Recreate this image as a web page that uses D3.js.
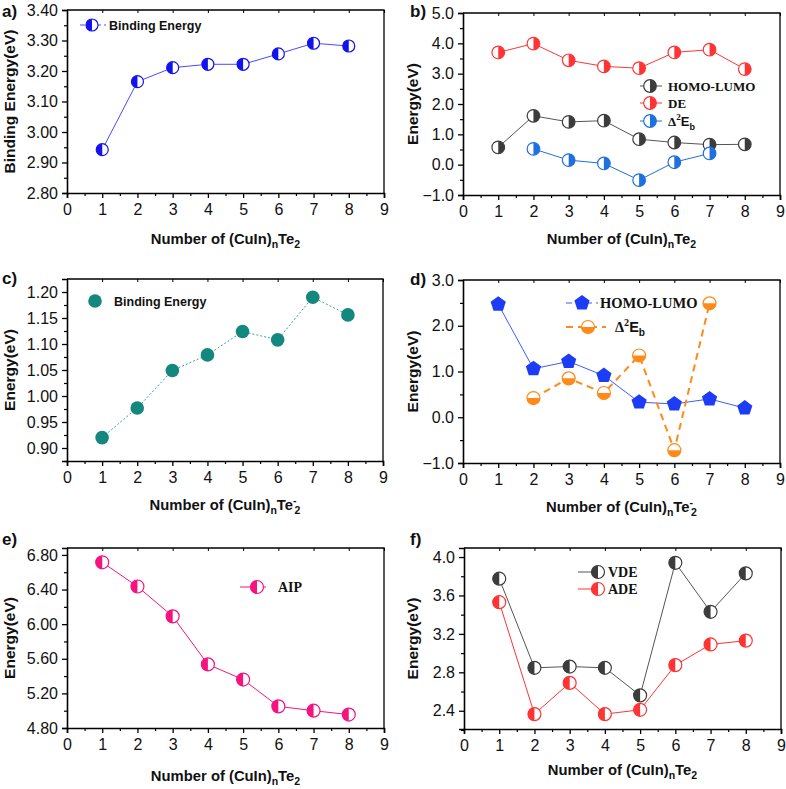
<!DOCTYPE html>
<html><head><meta charset="utf-8">
<script src="https://cdn.jsdelivr.net/npm/d3@7"></script>
<style>body{margin:0;background:#fff}svg{display:block}</style>
</head><body>
<svg id="c" width="786" height="789"></svg>
<script>
// ---------- data ----------
const nValues = [1, 2, 3, 4, 5, 6, 7, 8];
const nDelta = [2, 3, 4, 5, 6, 7];
const xTicks = [0, 1, 2, 3, 4, 5, 6, 7, 8, 9];

const aBinding = [2.942, 3.165, 3.211, 3.222, 3.222, 3.256, 3.291, 3.282];
const aYTicks = [2.80, 2.90, 3.00, 3.10, 3.20, 3.30, 3.40];

const bHomoLumo = [0.57, 1.61, 1.41, 1.45, 0.84, 0.73, 0.66, 0.67];
const bDE = [3.70, 3.99, 3.44, 3.24, 3.18, 3.70, 3.79, 3.15];
const bDelta2Eb = [0.52, 0.15, 0.04, -0.51, 0.08, 0.37];
const bYTicks = [-1.0, 0.0, 1.0, 2.0, 3.0, 4.0, 5.0];

const cBinding = [0.920, 0.977, 1.049, 1.079, 1.124, 1.108, 1.190, 1.156];
const cYTicks = [0.90, 0.95, 1.00, 1.05, 1.10, 1.15, 1.20];

const dHomoLumo = [2.47, 1.06, 1.22, 0.91, 0.33, 0.29, 0.40, 0.20];
const dDelta2Eb = [0.42, 0.85, 0.53, 1.35, -0.72, 2.49];
const dYTicks = [-1.0, 0.0, 1.0, 2.0, 3.0];

const eAIP = [6.715, 6.435, 6.09, 5.535, 5.36, 5.05, 5.00, 4.955];
const eYTicks = [4.80, 5.20, 5.60, 6.00, 6.40, 6.80];

const fVDE = [3.775, 2.847, 2.86, 2.847, 2.56, 3.94, 3.43, 3.83];
const fADE = [3.53, 2.365, 2.69, 2.365, 2.41, 2.875, 3.09, 3.13];
const fYTicks = [2.4, 2.8, 3.2, 3.6, 4.0];

// ---------- helpers ----------
const svg = d3.select("#c");
const SANS = "'Liberation Sans', Arial, sans-serif";
const SERIF = "'Liberation Serif', 'Times New Roman', serif";

function halfPath(r, side) {
  if (side === "left") return `M0,${-r}A${r},${r} 0 0 0 0,${r}Z`;
  if (side === "right") return `M0,${-r}A${r},${r} 0 0 1 0,${r}Z`;
  return `M${-r},0A${r},${r} 0 0 0 ${r},0Z`; // bottom
}
function pentagonPath(r) {
  const pts = d3.range(5).map(i => {
    const a = -Math.PI / 2 + i * 2 * Math.PI / 5;
    return [r * Math.cos(a), r * Math.sin(a)];
  });
  return "M" + pts.map(p => p.join(",")).join("L") + "Z";
}
function marker(g, x, y, type, color, r) {
  const m = g.append("g").attr("transform", `translate(${x},${y})`);
  if (type === "full") {
    m.append("circle").attr("r", r).attr("fill", color);
  } else if (type === "pent") {
    m.append("path").attr("d", pentagonPath(r)).attr("fill", color);
  } else {
    m.append("circle").attr("r", r).attr("fill", "#fff").attr("stroke", color).attr("stroke-width", 1.2);
    m.append("path").attr("d", halfPath(r, type)).attr("fill", color);
  }
}

function panel(cfg) {
  const g = svg.append("g");
  const x = d3.scaleLinear().domain([0, 9]).range([cfg.left, cfg.right]);
  const y = d3.scaleLinear().domain(cfg.yDomain).range([cfg.bottom, cfg.top]);

  // frame (top/right)
  g.append("path")
    .attr("d", `M${cfg.left},${cfg.top}H${cfg.right}V${cfg.bottom}`)
    .attr("fill", "none").attr("stroke", "#000").attr("stroke-width", 1.3);
  // top inner ticks
  g.append("g").attr("transform", `translate(0,${cfg.top})`)
    .call(d3.axisTop(x).tickValues(xTicks).tickSize(-3).tickFormat(""))
    .call(s => s.select(".domain").remove())
    .selectAll("line").attr("stroke-width", 1);

  // x axis
  const xg = g.append("g").attr("transform", `translate(0,${cfg.bottom})`);
  xg.call(d3.axisBottom(x).tickValues(d3.range(0.5, 9, 1)).tickSize(3).tickFormat(""))
    .selectAll("line").attr("stroke-width", 1.2);
  xg.select(".domain").remove();
  const xa = g.append("g").attr("transform", `translate(0,${cfg.bottom})`)
    .call(d3.axisBottom(x).tickValues(xTicks).tickSize(5).tickPadding(6).tickFormat(d3.format("d")));
  xa.select(".domain").attr("stroke-width", 1.6);
  xa.selectAll("line").attr("stroke-width", 1.3);
  xa.selectAll("text").attr("font-family", SANS).attr("font-size", 16).attr("fill", "#111");

  // y axis
  const yg = g.append("g").attr("transform", `translate(${cfg.left},0)`);
  yg.call(d3.axisLeft(y).tickValues(cfg.yMinor).tickSize(3).tickFormat(""))
    .selectAll("line").attr("stroke-width", 1.2);
  yg.select(".domain").remove();
  const ya = g.append("g").attr("transform", `translate(${cfg.left},0)`)
    .call(d3.axisLeft(y).tickValues(cfg.yTicks).tickSize(5).tickPadding(4).tickFormat(d3.format(cfg.fmt)));
  ya.select(".domain").attr("stroke-width", 1.6);
  ya.selectAll("line").attr("stroke-width", 1.3);
  ya.selectAll("text").attr("font-family", SANS).attr("font-size", 16).attr("fill", "#111");

  // axis titles
  const cx = (cfg.left + cfg.right) / 2;
  const xt = g.append("text").attr("x", cx).attr("y", cfg.xTitleY)
    .attr("text-anchor", "middle").attr("font-family", SANS).attr("font-weight", "bold")
    .attr("font-size", 14.8).attr("fill", "#111");
  xt.append("tspan").text("Number of (CuIn)");
  xt.append("tspan").attr("font-size", 10.5).attr("dy", 4).text("n");
  xt.append("tspan").attr("dy", -4).text("Te");
  if (cfg.anion) {
    xt.append("tspan").attr("font-size", 10.5).attr("dy", -6).text("-");
    xt.append("tspan").attr("font-size", 10.5).attr("dx", -2).attr("dy", 10).text("2");
  } else {
    xt.append("tspan").attr("font-size", 10.5).attr("dy", 4).text("2");
  }
  g.append("text")
    .attr("transform", `translate(${cfg.yTitleX},${(cfg.top + cfg.bottom) / 2}) rotate(-90)`)
    .attr("text-anchor", "middle").attr("font-family", SANS).attr("font-weight", "bold")
    .attr("font-size", 15.5).attr("fill", "#111").text(cfg.yTitle);

  // panel label
  g.append("text").attr("x", cfg.labelX).attr("y", cfg.labelY)
    .attr("font-family", SANS).attr("font-weight", "bold").attr("font-size", 17)
    .attr("fill", "#111").text(cfg.label);

  // series
  cfg.series.forEach(s => {
    const pts = s.n.map((n, i) => [x(n), y(s.v[i])]);
    g.append("path").attr("d", d3.line()(pts)).attr("fill", "none")
      .attr("stroke", s.lineColor || s.color).attr("stroke-width", s.lw || 1)
      .attr("stroke-dasharray", s.dash || null);
    pts.forEach(p => marker(g, p[0], p[1], s.type, s.color, s.r));
  });

  // legend
  cfg.legend.forEach(l => {
    if (l.line) {
      g.append("line").attr("x1", l.line[0]).attr("x2", l.line[1]).attr("y1", l.y).attr("y2", l.y)
        .attr("stroke", l.lineColor || l.color).attr("stroke-width", l.lw || 1)
        .attr("stroke-dasharray", l.dash || null);
    }
    marker(g, l.mx, l.y, l.type, l.color, l.r);
    const t = g.append("text").attr("x", l.tx).attr("y", l.y + 5)
      .attr("font-family", l.font).attr("font-weight", "bold").attr("font-size", l.fs).attr("fill", "#111");
    if (l.delta) {
      t.append("tspan").attr("font-family", SERIF).text("Δ");
      t.append("tspan").attr("font-size", l.fs * 0.7).attr("dy", -6).text("2");
      t.append("tspan").attr("font-family", SANS).attr("dy", 6).text("E");
      t.append("tspan").attr("font-family", SANS).attr("font-size", l.fs * 0.7).attr("dy", 4).text("b");
    } else {
      t.text(l.text);
    }
  });
}

// ---------- panels ----------
panel({
  label: "a)", labelX: 2, labelY: 17,
  left: 67, right: 384, top: 10, bottom: 193,
  yDomain: [2.8, 3.4], yTicks: aYTicks, yMinor: d3.range(2.85, 3.4, 0.1), fmt: ".2f",
  yTitle: "Binding Energy(eV)", yTitleX: 15, xTitleY: 244,
  series: [{ n: nValues, v: aBinding, color: "#1212ee", lineColor: "#4a4aff", type: "left", r: 6 }],
  legend: [{ y: 25, line: [80, 106], mx: 92, type: "left", color: "#1212ee", lineColor: "#4a4aff",
    dash: "5,3", r: 6, tx: 109, text: "Binding Energy", font: SANS, fs: 12.5 }]
});

panel({
  label: "b)", labelX: 410, labelY: 17,
  left: 463, right: 780, top: 13, bottom: 195,
  yDomain: [-1, 5], yTicks: bYTicks, yMinor: d3.range(-0.5, 5, 1), fmt: ".1f",
  yTitle: "Energy(eV)", yTitleX: 418, xTitleY: 244,
  series: [
    { n: nValues, v: bDE, color: "#ff3535", type: "right", r: 6.3 },
    { n: nValues, v: bHomoLumo, color: "#3c3c3c", lineColor: "#555", type: "right", r: 6.3 },
    { n: nDelta, v: bDelta2Eb, color: "#1e6fe0", type: "right", r: 6.3 }
  ],
  legend: [
    { y: 86, line: [640, 662], mx: 650, type: "right", color: "#3c3c3c", lineColor: "#555", r: 6.3, tx: 668, text: "HOMO-LUMO", font: SERIF, fs: 13 },
    { y: 103, line: [640, 662], mx: 650, type: "right", color: "#ff3535", r: 6.3, tx: 668, text: "DE", font: SERIF, fs: 13 },
    { y: 121, line: [640, 662], mx: 650, type: "right", color: "#1e6fe0", r: 6.3, tx: 668, delta: true, font: SERIF, fs: 13 }
  ]
});

panel({
  label: "c)", labelX: 2, labelY: 284,
  left: 67, right: 383, top: 279, bottom: 461,
  yDomain: [0.875, 1.225], yTicks: cYTicks, yMinor: d3.range(0.875, 1.22, 0.05), fmt: ".2f",
  yTitle: "Energy(eV)", yTitleX: 15, xTitleY: 510, anion: true,
  series: [{ n: nValues, v: cBinding, color: "#14877e", lineColor: "#3aa39a", dash: "2,2", type: "full", r: 6.8 }],
  legend: [{ y: 301, mx: 95, type: "full", color: "#14877e", r: 6.8, tx: 114, text: "Binding Energy", font: SANS, fs: 12.5 }]
});

panel({
  label: "d)", labelX: 410, labelY: 285,
  left: 463, right: 780, top: 280, bottom: 463,
  yDomain: [-1, 3], yTicks: dYTicks, yMinor: d3.range(-0.5, 3, 1), fmt: ".1f",
  yTitle: "Energy(eV)", yTitleX: 418, xTitleY: 512, anion: true,
  series: [
    { n: nValues, v: dHomoLumo, color: "#1d3cf5", lineColor: "#3a5cff", type: "pent", r: 8 },
    { n: nDelta, v: dDelta2Eb, color: "#ff8a1a", lw: 2, dash: "7,5", type: "bottom", r: 6.5 }
  ],
  legend: [
    { y: 303, line: [566, 598], mx: 582, type: "pent", color: "#1d3cf5", lineColor: "#3a5cff", dash: "6,4", r: 8, tx: 600, text: "HOMO-LUMO", font: SERIF, fs: 14.5 },
    { y: 327, line: [566, 606], mx: 588, type: "bottom", color: "#ff8a1a", lw: 2, dash: "7,5", r: 6.5, tx: 615, delta: true, font: SERIF, fs: 14.5 }
  ]
});

panel({
  label: "e)", labelX: 2, labelY: 545,
  left: 67, right: 384, top: 548, bottom: 728,
  yDomain: [4.8, 6.88], yTicks: eYTicks, yMinor: d3.range(5.0, 6.88, 0.4), fmt: ".2f",
  yTitle: "Energy(eV)", yTitleX: 15, xTitleY: 781,
  series: [{ n: nValues, v: eAIP, color: "#f5137f", type: "left", r: 6.5 }],
  legend: [{ y: 587, line: [240, 266], mx: 257, type: "left", color: "#f5137f", r: 6.5, tx: 278, text: "AIP", font: SERIF, fs: 14 }]
});

panel({
  label: "f)", labelX: 410, labelY: 545,
  left: 464, right: 781, top: 548, bottom: 729,
  yDomain: [2.21, 4.094], yTicks: fYTicks, yMinor: d3.range(2.2, 4.09, 0.4), fmt: ".1f",
  yTitle: "Energy(eV)", yTitleX: 418, xTitleY: 775,
  series: [
    { n: nValues, v: fVDE, color: "#3c3c3c", lineColor: "#555", type: "left", r: 6.5 },
    { n: nValues, v: fADE, color: "#ff3333", type: "left", r: 6.5 }
  ],
  legend: [
    { y: 572, line: [578, 604], mx: 598, type: "left", color: "#3c3c3c", lineColor: "#555", r: 6.5, tx: 608, text: "VDE", font: SERIF, fs: 14 },
    { y: 589, line: [578, 604], mx: 598, type: "left", color: "#ff3333", r: 6.5, tx: 608, text: "ADE", font: SERIF, fs: 14 }
  ]
});
</script>
</body></html>
